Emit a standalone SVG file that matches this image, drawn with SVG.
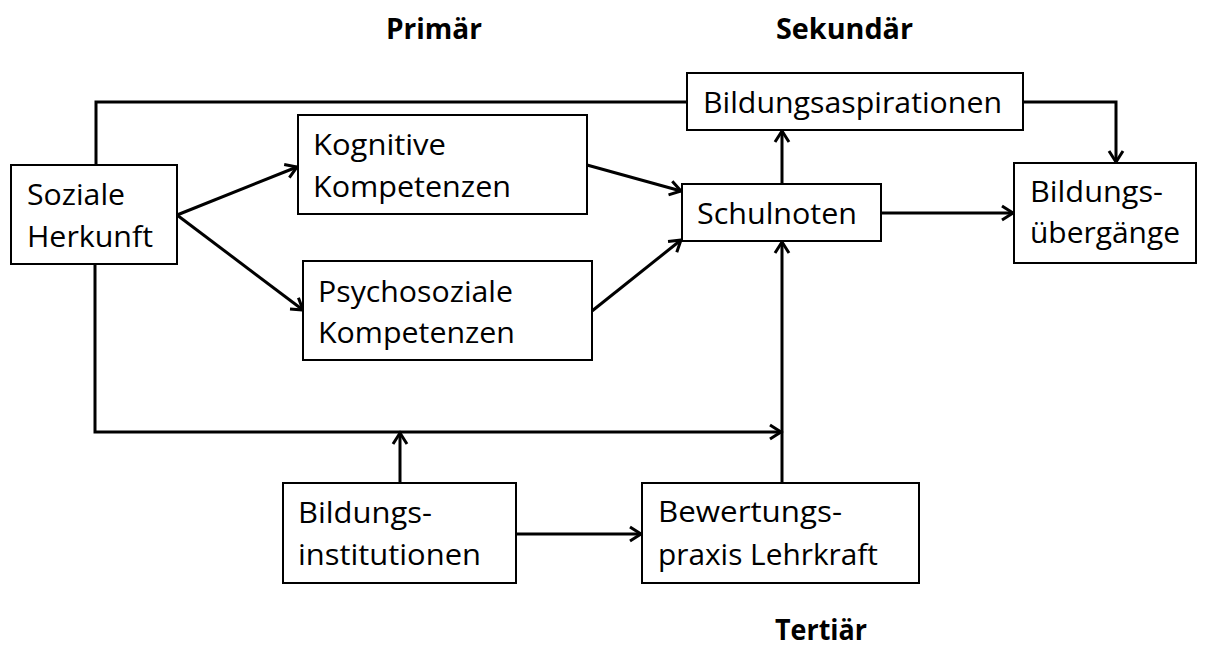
<svg xmlns="http://www.w3.org/2000/svg" width="1210" height="651" viewBox="0 0 1210 651">
<style>
.box{fill:#fff;stroke:#000;stroke-width:2}
.t{font-family:"Open Sans","Liberation Sans",sans-serif;font-size:30px;fill:#000}
.h{font-family:"Open Sans","Liberation Sans",sans-serif;font-size:29px;font-weight:bold;fill:#000}
.c{fill:none;stroke:#000;stroke-width:3}
</style>
<defs>
<marker id="arr" markerUnits="userSpaceOnUse" markerWidth="20" markerHeight="20" refX="12" refY="8" orient="auto" viewBox="0 0 20 16">
<path d="M1,1 L12,8 L1,15" fill="none" stroke="#000" stroke-width="3"/>
</marker>
</defs>
<rect width="1210" height="651" fill="#fff"/>
<g id="connectors">
<path class="c" d="M96,165 V102 H687"/>
<path class="c" d="M1023,102 H1116 V162" marker-end="url(#arr)"/>
<path class="c" d="M177,215 L297,167" marker-end="url(#arr)"/>
<path class="c" d="M177,215 L303,310" marker-end="url(#arr)"/>
<path class="c" d="M587,165 L681,191" marker-end="url(#arr)"/>
<path class="c" d="M592,311 L681,240" marker-end="url(#arr)"/>
<path class="c" d="M782,184 V131" marker-end="url(#arr)"/>
<path class="c" d="M881,213 H1013" marker-end="url(#arr)"/>
<path class="c" d="M95,264 V432 H781" marker-end="url(#arr)"/>
<path class="c" d="M400,483 V433" marker-end="url(#arr)"/>
<path class="c" d="M516,534 H641" marker-end="url(#arr)"/>
<path class="c" d="M782,483 V242" marker-end="url(#arr)"/>
</g>
<g id="soziale-herkunft">
<rect class="box" x="11" y="165" width="166" height="99"/>
<text class="t" x="27" y="205" textLength="98" lengthAdjust="spacingAndGlyphs">Soziale</text>
<text class="t" x="27" y="247" textLength="126" lengthAdjust="spacingAndGlyphs">Herkunft</text>
</g>
<g id="kognitive">
<rect class="box" x="298" y="115" width="289" height="99"/>
<text class="t" x="313" y="155" textLength="133" lengthAdjust="spacingAndGlyphs">Kognitive</text>
<text class="t" x="313" y="197" textLength="198" lengthAdjust="spacingAndGlyphs">Kompetenzen</text>
</g>
<g id="psychosoziale">
<rect class="box" x="303" y="261" width="289" height="99"/>
<text class="t" x="318" y="302" textLength="195" lengthAdjust="spacingAndGlyphs">Psychosoziale</text>
<text class="t" x="318" y="343" textLength="197" lengthAdjust="spacingAndGlyphs">Kompetenzen</text>
</g>
<g id="bildungsaspirationen">
<rect class="box" x="687" y="73" width="336" height="57"/>
<text class="t" x="703" y="113" textLength="299" lengthAdjust="spacingAndGlyphs">Bildungsaspirationen</text>
</g>
<g id="schulnoten">
<rect class="box" x="682" y="184" width="199" height="57"/>
<text class="t" x="697" y="224" textLength="160" lengthAdjust="spacingAndGlyphs">Schulnoten</text>
</g>
<g id="bildungsuebergaenge">
<rect class="box" x="1014" y="163" width="182" height="100"/>
<text class="t" x="1030" y="202" textLength="133" lengthAdjust="spacingAndGlyphs">Bildungs-</text>
<text class="t" x="1030" y="243" textLength="150" lengthAdjust="spacingAndGlyphs">übergänge</text>
</g>
<g id="bildungsinstitutionen">
<rect class="box" x="283" y="483" width="233" height="100"/>
<text class="t" x="298" y="523" textLength="134" lengthAdjust="spacingAndGlyphs">Bildungs-</text>
<text class="t" x="298" y="565" textLength="183" lengthAdjust="spacingAndGlyphs">institutionen</text>
</g>
<g id="bewertungspraxis">
<rect class="box" x="642" y="483" width="277" height="100"/>
<text class="t" x="658" y="522" textLength="184" lengthAdjust="spacingAndGlyphs">Bewertungs-</text>
<text class="t" x="658" y="565" textLength="220" lengthAdjust="spacingAndGlyphs">praxis Lehrkraft</text>
</g>
<g id="labels">
<text class="h" x="386" y="39" textLength="96" lengthAdjust="spacingAndGlyphs">Primär</text>
<text class="h" x="776" y="39" textLength="137" lengthAdjust="spacingAndGlyphs">Sekundär</text>
<text class="h" x="775" y="640" textLength="92" lengthAdjust="spacingAndGlyphs">Tertiär</text>
</g>
</svg>
